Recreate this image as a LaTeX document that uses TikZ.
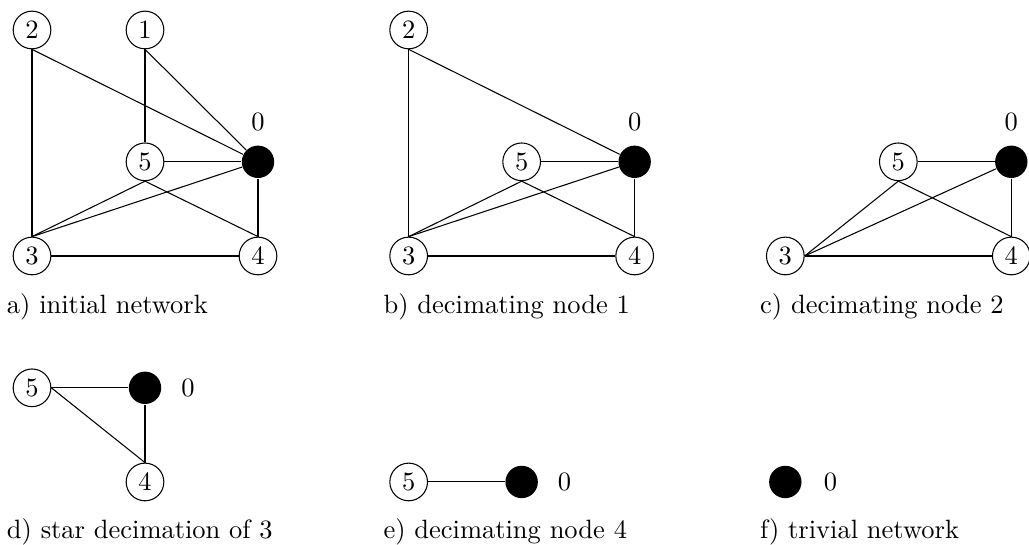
\documentclass[tikz,border=0pt]{standalone}
\usepackage{amsmath,amssymb}
\usepackage{tikz}

\tikzset{
  vtx/.style={circle,draw,inner sep=0pt,minimum size=0.5cm},
  sink/.style={circle,fill=black,inner sep=0pt,minimum size=0.43cm},
  capt/.style={anchor=base west,inner sep=0pt}
}

\begin{document}
\begin{tikzpicture}
    \useasboundingbox (-0.425,-3.836) rectangle (13.235,3.398);
    % a) initial network
    \node[vtx] (a3) at (0,0) {3};
    \node[vtx] (a4) at (3,0) {4};
    \node[vtx] (a5) at (1.5,1.25) {5};
    \node[sink] (a0) at (3,1.25) {};
    \node[vtx] (a2) at (0,3) {2};
    \node[vtx] (a1) at (1.5,3) {1};
    \node (a0l) at (3,1.78) {0};
    \foreach \s/\t in {a2.south/a3.north,a2.south/a0,a1.south/a5.north,a1.south/a0,
      a5.east/a0,a5.south/a3.north,a5.south/a4.north,a3.north/a0,a0/a4.north,a3.east/a4.west}
      \draw (\s)--(\t);
    \node[capt] (acap) at (-0.34,-0.757) {a) initial network};
    % b) decimating node 1
    \node[vtx] (b3) at (5,0) {3};
    \node[vtx] (b4) at (8,0) {4};
    \node[vtx] (b5) at (6.5,1.25) {5};
    \node[sink] (b0) at (8,1.25) {};
    \node[vtx] (b2) at (5,3) {2};
    \node (b0l) at (8,1.78) {0};
    \foreach \s/\t in {b2.south/b3.north,b2.south/b0,b5.east/b0,b5.south/b3.north,
      b5.south/b4.north,b3.north/b0,b0/b4.north,b3.east/b4.west}
      \draw (\s)--(\t);
    \node[capt] (bcap) at (4.66,-0.757) {b) decimating node 1};
    % c) decimating node 2
    \node[vtx] (c3) at (10,0) {3};
    \node[vtx] (c4) at (13,0) {4};
    \node[vtx] (c5) at (11.5,1.25) {5};
    \node[sink] (c0) at (13,1.25) {};
    \node (c0l) at (13,1.78) {0};
    \foreach \s/\t in {c5.east/c0,c5.south/c3.east,c5.south/c4.north,c3.east/c0,
      c0/c4.north,c3.east/c4.west}
      \draw (\s)--(\t);
    \node[capt] (ccap) at (9.66,-0.757) {c) decimating node 2};
    % d) star decimation of 3
    \node[vtx] (d5) at (0,-1.75) {5};
    \node[sink] (d0) at (1.5,-1.75) {};
    \node[vtx] (d4) at (1.5,-3) {4};
    \node (d0l) at (2.07,-1.75) {0};
    \draw (d5.east)--(d0);
    \draw (d5.east)--(d4.north);
    \draw (d0)--(d4.north);
    \node[capt] (dcap) at (-0.34,-3.757) {d) star decimation of 3};
    % e) decimating node 4
    \node[vtx] (e5) at (5,-3) {5};
    \node[sink] (e0) at (6.5,-3) {};
    \node (e0l) at (7.07,-3) {0};
    \draw (e5.east)--(e0);
    \node[capt] (ecap) at (4.66,-3.757) {e) decimating node 4};
    % f) trivial network
    \node[sink] (f0) at (10,-3) {};
    \node (f0l) at (10.6,-3) {0};
    \node[capt] (fcap) at (9.66,-3.757) {f) trivial network};
\end{tikzpicture}
\end{document}
